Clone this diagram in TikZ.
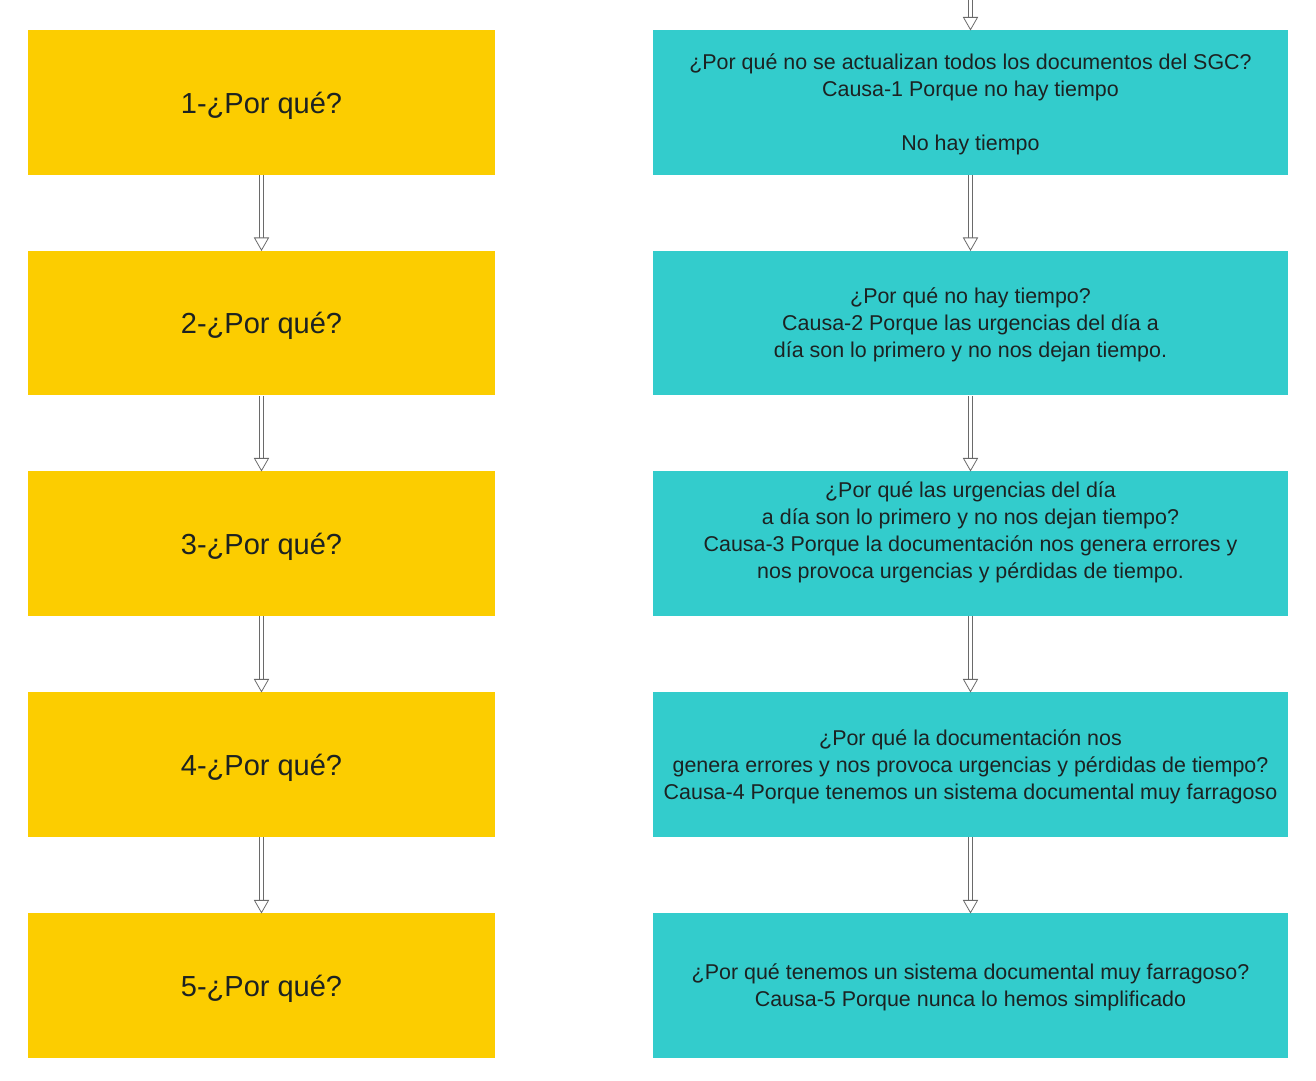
\documentclass[tikz,border=0pt]{standalone}
\usepackage{fontspec}
\setmainfont{Liberation Sans}
\usetikzlibrary{decorations.markings}
\definecolor{ybox}{HTML}{FCCD00}
\definecolor{tbox}{HTML}{33CCCC}
\definecolor{agray}{HTML}{6A6A6A}
\definecolor{txt}{HTML}{1C2222}
\begin{document}
\begin{tikzpicture}[x=0.02cm,y=-0.02cm,
  ybx/.style={fill=ybox, draw=none, inner sep=0pt, minimum width=9.34cm, minimum height=2.9cm,
    text=txt, text depth=0pt, font=\fontsize{16.5pt}{20pt}\selectfont},
  tbx/.style={fill=tbox, draw=none, inner sep=0pt, minimum width=12.7cm, minimum height=2.9cm,
    text=txt, text depth=0pt, align=center, font=\fontsize{12.2pt}{15.4pt}\selectfont},
  conn/.style={draw=agray, line width=2.6pt, shorten >=6.8pt,
    postaction={draw=white, line width=1.8pt, shorten >=6.8pt},
    postaction={decorate, decoration={markings, mark=at position 1 with
      {\draw[draw=agray, fill=white, line width=0.45pt, line join=miter]
        (0pt,0pt) -- (-7pt,4pt) -- (-7pt,-4pt) -- cycle;}}}}
]
\useasboundingbox (0,0) rectangle (1316,1080);
\fill[white] (0,0) rectangle (1316,1080);

\node[ybx] (y1) at (261.5,102.5) {1-¿Por qué?};
\node[ybx] (y2) at (261.5,323) {2-¿Por qué?};
\node[ybx] (y3) at (261.5,543.5) {3-¿Por qué?};
\node[ybx] (y4) at (261.5,764.5) {4-¿Por qué?};
\node[ybx] (y5) at (261.5,985.5) {5-¿Por qué?};

\node[tbx] (c1) at (970.5,102.5) {¿Por qué no se actualizan todos los documentos del SGC?\\ Causa-1 Porque no hay tiempo\\[15.4pt] No hay tiempo};
\node[tbx] (c2) at (970.5,323) {¿Por qué no hay tiempo?\\ Causa-2 Porque las urgencias del día a\\ día son lo primero y no nos dejan tiempo.};
\node[tbx] (c3) at (970.5,543.5) {¿Por qué las urgencias del día\\ a día son lo primero y no nos dejan tiempo?\\ Causa-3 Porque la documentación nos genera errores y\\ nos provoca urgencias y pérdidas de tiempo.\\ \strut};
\node[tbx] (c4) at (970.5,764.5) {¿Por qué la documentación nos\\ genera errores y nos provoca urgencias y pérdidas de tiempo?\\ Causa-4 Porque tenemos un sistema documental muy farragoso};
\node[tbx] (c5) at (970.5,985.5) {¿Por qué tenemos un sistema documental muy farragoso?\\ Causa-5 Porque nunca lo hemos simplificado};

\coordinate (top) at (970.5,-2);

\draw[conn] (y1.south) -- (y2.north);
\draw[conn] (y2.south) -- (y3.north);
\draw[conn] (y3.south) -- (y4.north);
\draw[conn] (y4.south) -- (y5.north);
\draw[conn] (top) -- (c1.north);
\draw[conn] (c1.south) -- (c2.north);
\draw[conn] (c2.south) -- (c3.north);
\draw[conn] (c3.south) -- (c4.north);
\draw[conn] (c4.south) -- (c5.north);
\end{tikzpicture}
\end{document}
